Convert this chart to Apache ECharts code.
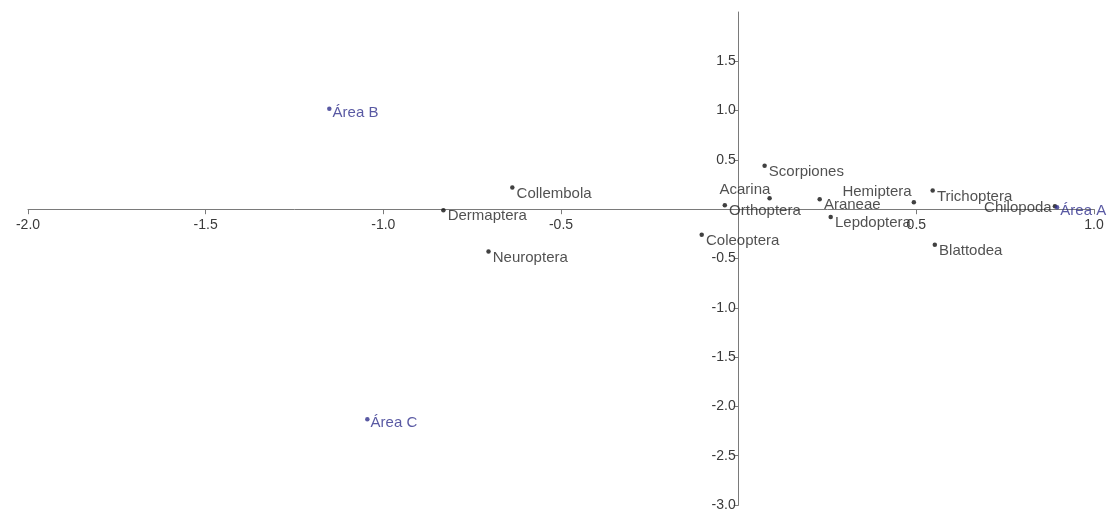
<!DOCTYPE html>
<html>
<head>
<meta charset="utf-8">
<script src="https://cdn.jsdelivr.net/npm/echarts@6/dist/echarts.min.js"></script>
<style>
  html, body { margin: 0; padding: 0; background: #fff; }
  #chart { width: 1112px; height: 513px; }
</style>
</head>
<body>
<div id="chart"></div>
<script>
// Ordination scores: taxa (black) and sampling areas (blue)
const taxa = ['Collembola', 'Dermaptera', 'Neuroptera', 'Scorpiones', 'Acarina', 'Orthoptera',
  'Coleoptera', 'Araneae', 'Lepdoptera', 'Hemiptera', 'Trichoptera', 'Blattodea', 'Chilopoda'];
const taxaX = [-0.637, -0.831, -0.704, 0.073, 0.087, -0.039, -0.104, 0.228, 0.259, 0.493, 0.546, 0.552, 0.890];
const taxaY = [0.22, -0.01, -0.43, 0.44, 0.11, 0.04, -0.26, 0.10, -0.08, 0.07, 0.19, -0.36, 0.03];

const areas = ['Área A', 'Área B', 'Área C'];
const areasX = [0.896, -1.152, -1.045];
const areasY = [0.02, 1.02, -2.13];

const xTicks = [-2.0, -1.5, -1.0, -0.5, 0.5, 1.0];
const yTicks = [1.5, 1.0, 0.5, -0.5, -1.0, -1.5, -2.0, -2.5, -3.0];

const X_MIN = -2, X_MAX = 1, Y_MIN = -3, Y_MAX = 2;

// Labels that sit to the upper-left of their point; the pair is a pixel nudge [dx, dy]
const leftLabels = {
  'Acarina': [4, -8],
  'Hemiptera': [1, -10],
  'Chilopoda': [0, 2]
};
const RIGHT_NUDGE = [1, 6];
const AREA_NUDGE = [0, 4];

const FONT = 'Liberation Sans, Arial, sans-serif';
const AREA_BLUE = '#2f2f8c';
const AXIS_GREY = '#7a7a7a';

const taxaData = taxa.map((name, i) => {
  const item = { name: name, value: [taxaX[i], taxaY[i]] };
  if (leftLabels[name]) {
    item.label = { position: 'left' };
  }
  return item;
});
const areaData = areas.map((name, i) => ({ name: name, value: [areasX[i], areasY[i]] }));

const fmt = v => v.toFixed(1);

const chart = echarts.init(document.getElementById('chart'), null, { renderer: 'canvas' });
chart.setOption({
  animation: false,
  backgroundColor: '#ffffff',
  grid: { left: 28, right: 18, top: 12, bottom: 8, containLabel: false, outerBoundsMode: 'none' },
  xAxis: {
    type: 'value',
    min: X_MIN, max: X_MAX, interval: 0.5,
    splitLine: { show: false },
    axisLine: { onZero: false, lineStyle: { color: AXIS_GREY, width: 1 } },
    axisTick: { show: true, length: 5, lineStyle: { color: AXIS_GREY }, customValues: xTicks },
    axisLabel: {
      color: '#3a3a3a', fontFamily: FONT, fontSize: 14, margin: 9,
      customValues: xTicks, formatter: fmt, hideOverlap: false
    }
  },
  yAxis: {
    type: 'value',
    min: Y_MIN, max: Y_MAX, interval: 0.5,
    splitLine: { show: false },
    axisLine: { onZero: false, lineStyle: { color: AXIS_GREY, width: 1 } },
    axisTick: { show: true, length: 5, lineStyle: { color: AXIS_GREY }, customValues: yTicks },
    axisLabel: {
      color: '#3a3a3a', fontFamily: FONT, fontSize: 14, margin: 3,
      customValues: yTicks, formatter: fmt, hideOverlap: false
    }
  },
  series: [
    {
      name: 'Taxa',
      type: 'scatter',
      symbol: 'circle',
      symbolSize: 4.5,
      itemStyle: { color: '#111' },
      label: {
        show: true, position: 'right', distance: 1,
        formatter: p => p.name,
        color: '#262626', fontFamily: FONT, fontSize: 15
      },
      labelLayout: params => {
        const nudge = leftLabels[taxa[params.dataIndex]] || RIGHT_NUDGE;
        return { dx: nudge[0], dy: nudge[1], hideOverlap: false };
      },
      data: taxaData
    },
    {
      name: 'Áreas',
      type: 'scatter',
      symbol: 'circle',
      symbolSize: 4.5,
      itemStyle: { color: AREA_BLUE },
      label: {
        show: true, position: 'right', distance: 1,
        formatter: p => p.name,
        color: AREA_BLUE, fontFamily: FONT, fontSize: 15
      },
      labelLayout: () => ({ dx: AREA_NUDGE[0], dy: AREA_NUDGE[1], hideOverlap: false }),
      data: areaData
    }
  ]
});

// Move both axes so they cross at the origin (labels and ticks travel with them)
const zeroY = chart.convertToPixel({ yAxisIndex: 0 }, 0);
const bottomY = chart.convertToPixel({ yAxisIndex: 0 }, Y_MIN);
const zeroX = chart.convertToPixel({ xAxisIndex: 0 }, 0);
const leftX = chart.convertToPixel({ xAxisIndex: 0 }, X_MIN);
chart.setOption({
  xAxis: { offset: -(bottomY - zeroY) },
  yAxis: { offset: -(zeroX - leftX) }
});
</script>
</body>
</html>
